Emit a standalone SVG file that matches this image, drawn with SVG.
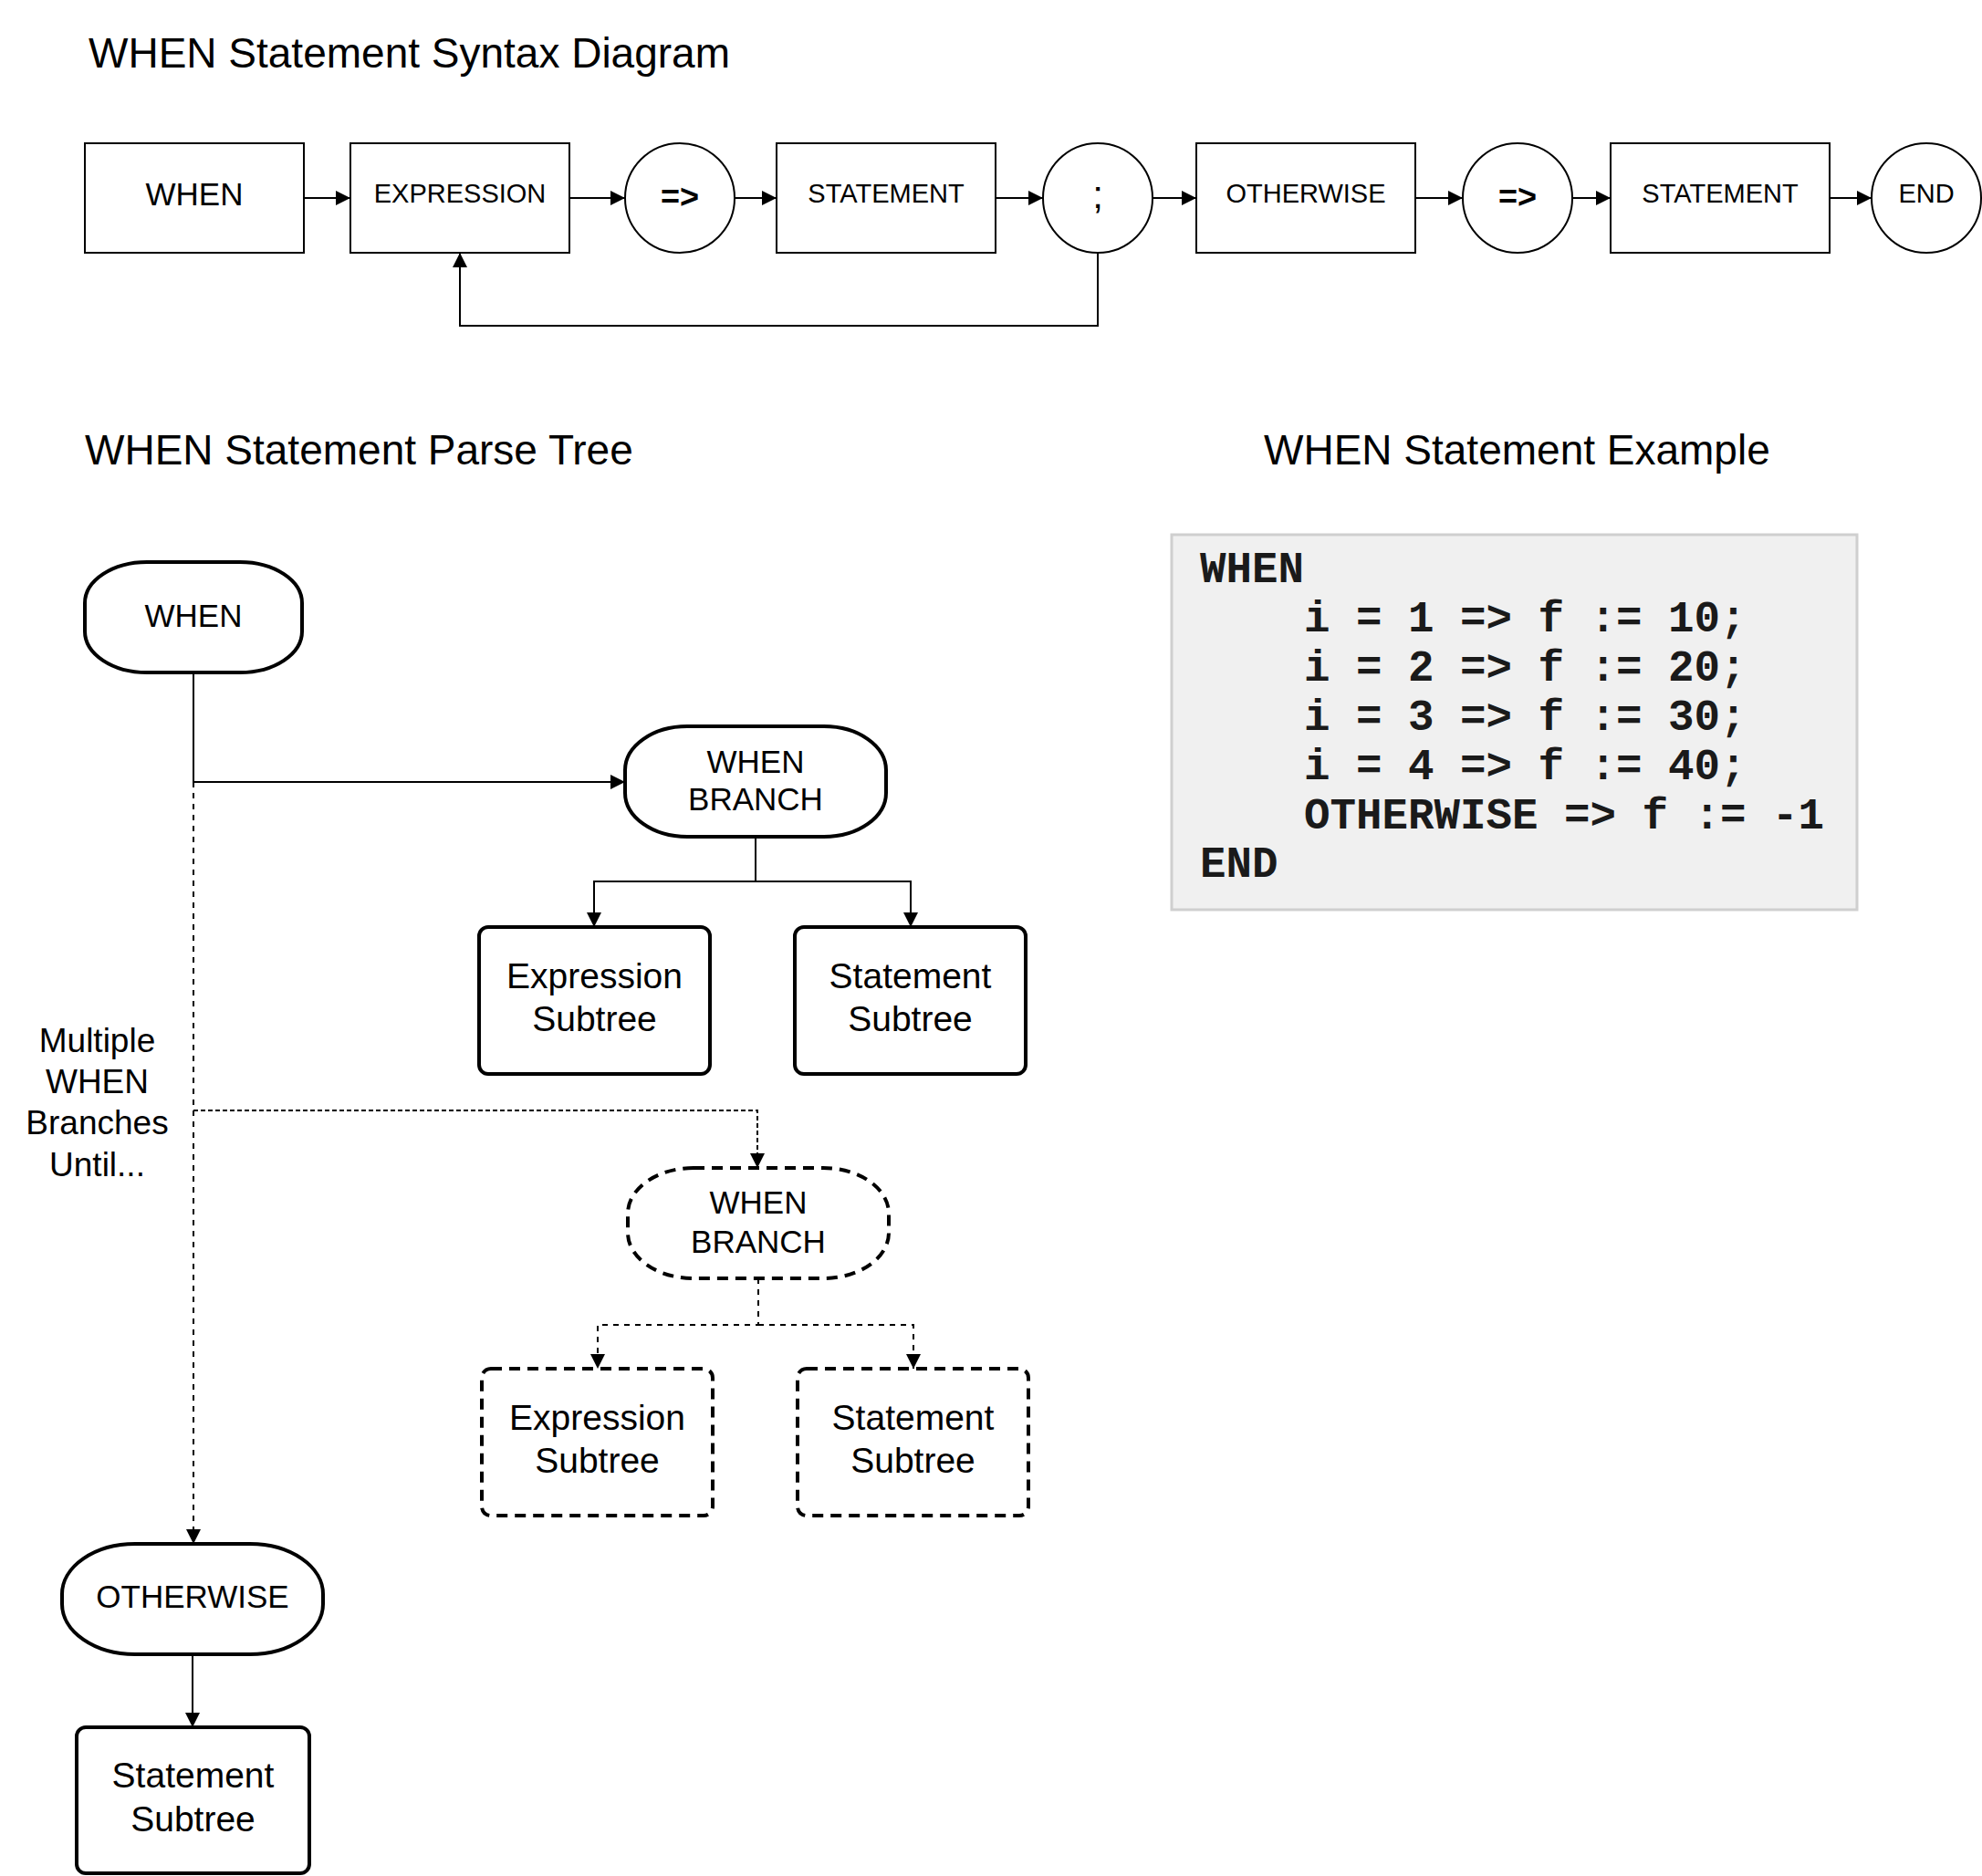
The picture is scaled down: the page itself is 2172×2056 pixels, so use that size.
<svg xmlns="http://www.w3.org/2000/svg" width="2172" height="2056" viewBox="0 0 2172 2056">
<style>
.t{font-family:"Liberation Sans",Arial,sans-serif;fill:#000;text-anchor:middle}
.title{font-family:"Liberation Sans",Arial,sans-serif;font-size:46px;fill:#000}
.s28{font-size:29px}
.s35{font-size:35px}
.s37{font-size:37px}
.s39{font-size:39px}
.box{fill:#fff;stroke:#000;stroke-width:2}
.node{fill:#fff;stroke:#000;stroke-width:4}
.dnode{fill:#fff;stroke:#000;stroke-width:4;stroke-dasharray:12 8}
.edge{fill:none;stroke:#000;stroke-width:2}
.dash{stroke-dasharray:6 6}
.dot{stroke-dasharray:5 3}
.code{font-family:"Liberation Mono","Courier New",monospace;font-weight:bold;font-size:47.5px;fill:#1a1a1a}
</style>
<defs>
<marker id="arr" markerUnits="userSpaceOnUse" markerWidth="16" markerHeight="16" refX="16" refY="8" orient="auto">
<path d="M0,0 L16,8 L0,16 Z" fill="#000" stroke="none"/>
</marker>
</defs>
<rect width="2172" height="2056" fill="#fff"/>

<g id="titles">
<text class="title" x="97" y="74">WHEN Statement Syntax Diagram</text>
<text class="title" x="93" y="509">WHEN Statement Parse Tree</text>
<text class="title" x="1385" y="509">WHEN Statement Example</text>
</g>

<g id="connectors">
<path class="edge" d="M333,217 H384" marker-end="url(#arr)"/>
<path class="edge" d="M624,217 H685" marker-end="url(#arr)"/>
<path class="edge" d="M805,217 H851" marker-end="url(#arr)"/>
<path class="edge" d="M1091,217 H1143" marker-end="url(#arr)"/>
<path class="edge" d="M1263,217 H1311" marker-end="url(#arr)"/>
<path class="edge" d="M1551,217 H1603" marker-end="url(#arr)"/>
<path class="edge" d="M1723,217 H1765" marker-end="url(#arr)"/>
<path class="edge" d="M2005,217 H2051" marker-end="url(#arr)"/>
<path class="edge" d="M1203,277 V357 H504 V277" marker-end="url(#arr)"/>

<path class="edge" d="M212,737 V857 H685" marker-end="url(#arr)"/>
<path class="edge dash" d="M212,857 V1692" marker-end="url(#arr)"/>
<path class="edge dot" d="M212,1217 H830 V1280" marker-end="url(#arr)"/>
<path class="edge" d="M828,917 V966 H651 V1016" marker-end="url(#arr)"/>
<path class="edge" d="M828,966 H998 V1016" marker-end="url(#arr)"/>
<path class="edge dash" d="M831,1401 V1452 H655 V1500" marker-end="url(#arr)"/>
<path class="edge dash" d="M831,1452 H1001 V1500" marker-end="url(#arr)"/>
<path class="edge" d="M211,1813 V1893" marker-end="url(#arr)"/>
</g>

<g id="syn-when"><rect class="box" x="93" y="157" width="240" height="120"/><text class="t s35" x="213" y="225">WHEN</text></g>
<g id="syn-expression"><rect class="box" x="384" y="157" width="240" height="120"/><text class="t s28" x="504" y="222">EXPRESSION</text></g>
<g id="syn-arrow1"><circle class="box" cx="745" cy="217" r="60"/><text class="t" style="font-size:36px;font-weight:bold" x="745" y="228">=&gt;</text></g>
<g id="syn-statement1"><rect class="box" x="851" y="157" width="240" height="120"/><text class="t s28" x="971" y="222">STATEMENT</text></g>
<g id="syn-semicolon"><circle class="box" cx="1203" cy="217" r="60"/><text class="t" style="font-size:42px" x="1203" y="228">;</text></g>
<g id="syn-otherwise"><rect class="box" x="1311" y="157" width="240" height="120"/><text class="t s28" x="1431" y="222">OTHERWISE</text></g>
<g id="syn-arrow2"><circle class="box" cx="1663" cy="217" r="60"/><text class="t" style="font-size:36px;font-weight:bold" x="1663" y="228">=&gt;</text></g>
<g id="syn-statement2"><rect class="box" x="1765" y="157" width="240" height="120"/><text class="t s28" x="1885" y="222">STATEMENT</text></g>
<g id="syn-end"><circle class="box" cx="2111" cy="217" r="60"/><text class="t s28" x="2111" y="222">END</text></g>

<g id="pt-when"><rect class="node" x="93" y="616" width="238" height="121" rx="68" ry="45"/><text class="t s35" x="212" y="687">WHEN</text></g>
<g id="pt-branch1"><rect class="node" x="685" y="796" width="286" height="121" rx="68" ry="48"/><text class="t s35" x="828" y="847">WHEN</text><text class="t s35" x="828" y="888">BRANCH</text></g>
<g id="pt-expr1"><rect class="node" x="525" y="1016" width="253" height="161" rx="10"/><text class="t s39" x="651.5" y="1083">Expression</text><text class="t s39" x="651.5" y="1130">Subtree</text></g>
<g id="pt-stmt1"><rect class="node" x="871" y="1016" width="253" height="161" rx="10"/><text class="t s39" x="997.5" y="1083">Statement</text><text class="t s39" x="997.5" y="1130">Subtree</text></g>
<g id="pt-label"><text class="t s37" x="106.5" y="1153">Multiple</text><text class="t s37" x="106.5" y="1198">WHEN</text><text class="t s37" x="106.5" y="1243">Branches</text><text class="t s37" x="106.5" y="1289">Until...</text></g>
<g id="pt-branch2"><rect class="dnode" x="688" y="1280" width="286" height="121" rx="72" ry="50"/><text class="t s35" x="831" y="1330">WHEN</text><text class="t s35" x="831" y="1373">BRANCH</text></g>
<g id="pt-expr2"><rect class="dnode" x="528" y="1500" width="253" height="161" rx="10"/><text class="t s39" x="654.5" y="1567">Expression</text><text class="t s39" x="654.5" y="1614">Subtree</text></g>
<g id="pt-stmt2"><rect class="dnode" x="874" y="1500" width="253" height="161" rx="10"/><text class="t s39" x="1000.5" y="1567">Statement</text><text class="t s39" x="1000.5" y="1614">Subtree</text></g>
<g id="pt-otherwise"><rect class="node" x="68" y="1692" width="286" height="121" rx="80" ry="55"/><text class="t s35" x="211" y="1762">OTHERWISE</text></g>
<g id="pt-stmt3"><rect class="node" x="84" y="1893" width="255" height="160" rx="10"/><text class="t s39" x="211.5" y="1959">Statement</text><text class="t s39" x="211.5" y="2007">Subtree</text></g>

<g id="example">
<rect x="1284" y="586" width="751" height="411" fill="#f0f0f0" stroke="#cfcfcf" stroke-width="3"/>
<text class="code" x="1315" y="638">WHEN</text>
<text class="code" x="1429" y="692">i = 1 =&gt; f := 10;</text>
<text class="code" x="1429" y="746">i = 2 =&gt; f := 20;</text>
<text class="code" x="1429" y="800">i = 3 =&gt; f := 30;</text>
<text class="code" x="1429" y="853.5">i = 4 =&gt; f := 40;</text>
<text class="code" x="1429" y="907.5">OTHERWISE =&gt; f := -1</text>
<text class="code" x="1315" y="961">END</text>
</g>
</svg>
